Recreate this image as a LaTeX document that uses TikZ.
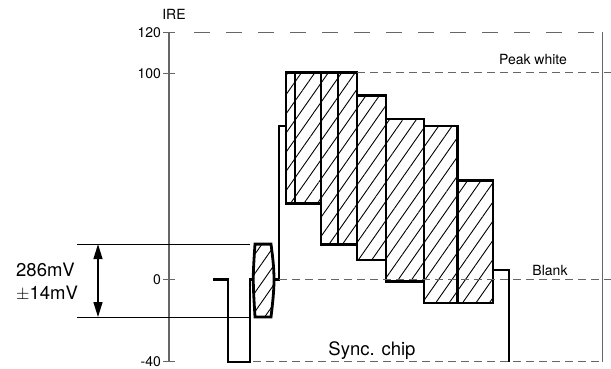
\documentclass[tikz,border=0pt]{standalone}
\usepackage{fontspec}
\setmainfont{TeX Gyre Heros}
\usetikzlibrary{patterns.meta,arrows.meta}
\begin{document}
\begin{tikzpicture}[x=1pt,y=2.06pt,
    axis/.style={draw=black!60,line width=1.1pt},
    guide/.style={draw=black!60,line width=1pt,dash pattern=on 8pt off 5pt},
    signal/.style={line width=2.8pt},
    hatch/.style={pattern={Lines[angle=55,distance=11pt,line width=0.9pt]}},
    bar/.style={signal,hatch},
    lbl/.style={font=\fontsize{14}{16}\selectfont,inner sep=0pt},
    big/.style={font=\fontsize{18.5}{23}\selectfont,inner sep=0pt}]
    \useasboundingbox (0,-43.4) rectangle (611,135.7);
    \draw[axis] (169,-40) -- (169,120);
    \foreach \v in {120,100,0,-40}
      \draw[axis] (163,\v) -- (175,\v) node[lbl,anchor=east] at (161.5,\v) {\v};
    \node[lbl] (ire) at (174,128.6) {IRE};
    \draw[axis,dash pattern=on 16pt off 16pt,dash phase=16pt] (178,120) -- (602,120);
    \draw[axis,line width=1pt] (602,120) -- (602,-40);
    \coordinate (mvtop) at (98,17.2);
    \coordinate (mvbot) at (98,-18.2);
    \draw[line width=1pt] (77,17.2) -- (250,17.2);
    \draw[line width=1pt] (77,-18.2) -- (250,-18.2);
    \draw[line width=1.5pt,{Triangle[length=15pt,width=9pt]}-{Triangle[length=15pt,width=9pt]}] (mvtop) -- (mvbot);
    \node[big,anchor=base west] (mv) at (16,1.4) {286mV};
    \node[big,anchor=base west] (tol) at (16,-9.6) {$\pm$14mV};
    \draw[signal] (213,0) -- (228,0) -- (228,-40) -- (250,-40) -- (250,0) -- (253.5,0);
    \draw[signal,hatch]
      (255,17.2) -- (271,17.2) .. controls (273,10) and (274,5) .. (274,0)
      .. controls (274,-5) and (273,-10) .. (271,-18.2)
      -- (255,-18.2) .. controls (254,-10) and (253.3,-5) .. (253.3,0)
      .. controls (253.3,5) and (254,10) .. cycle;
    \draw[signal] (274,0) -- (279,0) -- (279,74.5) -- (286,74.5);
    \foreach \xa/\xb/\ya/\yb in {286/321/100.5/37, 321/338/100.5/17.2, 338/357/100.5/17.2,
        357/386/89.2/9.5, 386/424/77.9/-1.1, 424/457.5/74.5/-11.4, 457.5/493/48/-11.4}
      \draw[bar] (\xa,\yb) rectangle (\xb,\ya);
    \draw[line width=1.6pt] (295,37) -- (295,100.5);
    \draw[signal] (493,4.6) -- (509,4.6) -- (509,-40);
    \draw[guide] (357,100.5) -- (611,100.5);
    \draw[guide] (279,0) -- (611,0);
    \draw[guide] (253,-40) -- (602,-40);
    \node[lbl] (peak) at (533,106.6) {Peak white};
    \node[lbl] (blank) at (550,4.4) {Blank};
    \node[big,anchor=base] (sync) at (372,-36.7) {Sync. chip};
\end{tikzpicture}
\end{document}
